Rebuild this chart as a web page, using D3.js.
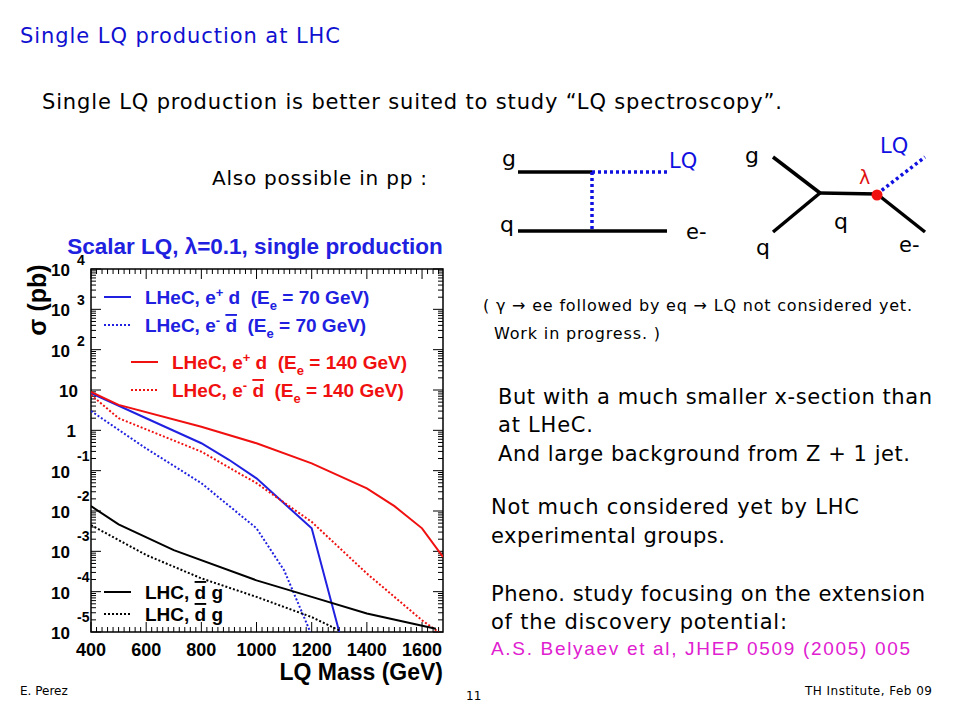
<!DOCTYPE html>
<html><head><meta charset="UTF-8">
<script src="https://cdnjs.cloudflare.com/ajax/libs/d3/7.8.5/d3.min.js"></script>
<style>body{margin:0;background:#fff}</style></head>
<body><svg id="s" width="960" height="720"></svg>
<script>
// data (mass in GeV, log10 sigma in pb)
const blueSolidM = [400, 600, 800, 900, 1000, 1200, 1300]
const blueSolidL = [0.92, 0.3, -0.32, -0.73, -1.19, -2.43, -5]
const blueDashM = [400, 600, 800, 1000, 1100, 1195]
const blueDashL = [0.48, -0.45, -1.31, -2.43, -3.47, -5]
const redSolidM = [400, 500, 800, 1000, 1200, 1400, 1500, 1600, 1676]
const redSolidL = [0.95, 0.63, 0.09, -0.32, -0.82, -1.44, -1.88, -2.43, -3.14]
const redDashM = [400, 500, 800, 1000, 1200, 1400, 1600, 1660]
const redDashL = [0.88, 0.3, -0.53, -1.31, -2.27, -3.55, -4.71, -5]
const blackSolidM = [400, 500, 700, 1000, 1200, 1400, 1650]
const blackSolidL = [-1.88, -2.33, -2.97, -3.72, -4.13, -4.54, -4.92]
const blackDashM = [400, 600, 800, 1000, 1200, 1300]
const blackDashL = [-2.35, -3.09, -3.67, -4.13, -4.63, -4.96]
const xTicks = [400, 600, 800, 1000, 1200, 1400, 1600]
const yExps = [-5, -4, -3, -2, -1, 0, 1, 2, 3, 4]

const svg = d3.select('#s')
const SL = 'Liberation Sans, Arial, sans-serif'
const SF = 'DejaVu Sans, sans-serif'
const x = d3.scaleLinear().domain([400, 1676]).range([91, 443])
const y = d3.scaleLog().domain([1e-5, 1e4]).range([632, 269])

// slide text
function txt(t, px, py, size, col, fam) {
  return svg.append('text').attr('x', px).attr('y', py).attr('font-size', size)
    .attr('fill', col || '#000').attr('font-family', fam || SF).text(t)
}
txt('Single LQ production at LHC', 20, 43, 21, '#1010d0').attr('textLength', 320)
txt('Single LQ production is better suited to study \u201cLQ spectroscopy\u201d.', 42, 109, 21).attr('textLength', 740)
txt('Also possible in pp :', 212, 185, 20).attr('textLength', 215)
txt('( \u03b3 \u2192 ee followed by eq \u2192 LQ not considered yet.', 483, 311, 16).attr('textLength', 429)
txt('Work in progress. )', 494, 339, 16).attr('textLength', 166)
txt('But with a much smaller x-section than', 498, 404, 21).attr('textLength', 434)
txt('at LHeC.', 498, 432, 21).attr('textLength', 95)
txt('And large background from Z + 1 jet.', 498, 461, 21).attr('textLength', 412)
txt('Not much considered yet by LHC', 491, 514, 21).attr('textLength', 368)
txt('experimental groups.', 491, 543, 21).attr('textLength', 234)
txt('Pheno. study focusing on the extension', 491, 601, 21).attr('textLength', 434)
txt('of the discovery potential:', 491, 629, 21).attr('textLength', 296)
txt('A.S. Belyaev et al, JHEP 0509 (2005) 005', 491, 655, 19, '#e020d0', SL).attr('textLength', 419)
txt('E. Perez', 20, 695, 12)
txt('11', 466, 700, 12)
txt('TH Institute, Feb 09', 805, 695, 12).attr('textLength', 127)

// feynman diagrams
const fl = (a, b, c, d, col, dash) => svg.append('line').attr('x1', a).attr('y1', b).attr('x2', c).attr('y2', d)
  .attr('stroke', col).attr('stroke-width', 3.5).attr('stroke-dasharray', dash || null)
fl(518, 172, 592, 172, '#000'); fl(592, 172, 667, 172, '#1010e0', '3,3')
fl(592, 172, 592, 231, '#1010e0', '3,3'); fl(518, 231, 667, 231, '#000')
txt('g', 502, 166, 22); txt('q', 500, 232, 22); txt('e-', 686, 239, 21); txt('LQ', 669, 168, 21, '#1010e0')
fl(773, 157, 820, 193, '#000'); fl(773, 232, 820, 193, '#000'); fl(820, 193, 877, 194, '#000')
fl(877, 194, 925, 232, '#000'); fl(877, 194, 925, 157, '#1010e0', '3,3')
svg.append('circle').attr('cx', 877).attr('cy', 195).attr('r', 5.5).attr('fill', '#f01010')
txt('g', 745, 163, 22); txt('LQ', 880, 153, 21, '#1010e0'); txt('\u03bb', 859, 184, 19, '#e01010')
txt('q', 834, 229, 22); txt('q', 756, 255, 22); txt('e-', 899, 252, 21)

// chart
const plot = svg.append('g')
plot.append('text').attr('x', 255).attr('y', 254).attr('text-anchor', 'middle').attr('font-family', SL)
  .attr('font-weight', 'bold').attr('font-size', 22.5).attr('fill', '#2020e0').text('Scalar LQ, \u03bb=0.1, single production')
plot.append('rect').attr('x', 91).attr('y', 269).attr('width', 352).attr('height', 363)
  .attr('fill', 'none').attr('stroke', '#000').attr('stroke-width', 1.5)

// ticks on all four sides
const xMinor = d3.range(400, 1676, 20)
xMinor.forEach(v => {
  const len = v % 200 === 0 ? 10 : 5
  plot.append('line').attr('x1', x(v)).attr('x2', x(v)).attr('y1', 632).attr('y2', 632 - len).attr('stroke', '#000')
  plot.append('line').attr('x1', x(v)).attr('x2', x(v)).attr('y1', 269).attr('y2', 269 + len).attr('stroke', '#000')
})
yExps.forEach(e => {
  for (let k = 1; k <= 9; k++) {
    const v = k * Math.pow(10, e)
    if (v > 1e4) continue
    const len = k === 1 ? 10 : 5
    plot.append('line').attr('x1', 91).attr('x2', 91 + len).attr('y1', y(v)).attr('y2', y(v)).attr('stroke', '#000')
    plot.append('line').attr('x1', 443).attr('x2', 443 - len).attr('y1', y(v)).attr('y2', y(v)).attr('stroke', '#000')
  }
})
xTicks.forEach(v => plot.append('text').attr('x', x(v)).attr('y', 656).attr('text-anchor', 'middle')
  .attr('font-family', SL).attr('font-weight', 'bold').attr('font-size', 18).text(v))
yExps.forEach(e => {
  const t = plot.append('text').attr('font-family', SL).attr('font-weight', 'bold').attr('font-size', 17)
  if (e === 0) { t.attr('x', 76).attr('y', y(1) + 7).attr('text-anchor', 'end').text('1'); return }
  if (e === 1) { t.attr('x', 78).attr('y', y(10) + 7).attr('text-anchor', 'end').text('10'); return }
  t.attr('x', 51).attr('y', y(Math.pow(10, e)) + 7).text('10')
  plot.append('text').attr('x', 77).attr('y', y(Math.pow(10, e)) - (e > 0 ? 4 : 10)).attr('font-family', SL)
    .attr('font-weight', 'bold').attr('font-size', 14).text(e)
})
plot.append('text').attr('transform', 'translate(46,300) rotate(-90)').attr('text-anchor', 'middle')
  .attr('font-family', SL).attr('font-weight', 'bold').attr('font-size', 25).text('\u03c3 (pb)')
plot.append('text').attr('x', 443).attr('y', 680).attr('text-anchor', 'end')
  .attr('font-family', SL).attr('font-weight', 'bold').attr('font-size', 23).text('LQ Mass (GeV)')

const line = d3.line().x(d => x(d[0])).y(d => y(Math.pow(10, d[1])))
const series = [
  [blueSolidM, blueSolidL, '#2020e0', null],
  [blueDashM, blueDashL, '#2020e0', '2,2'],
  [redSolidM, redSolidL, '#f01010', null],
  [redDashM, redDashL, '#f01010', '2,2'],
  [blackSolidM, blackSolidL, '#000', null],
  [blackDashM, blackDashL, '#000', '2,2']
]
svg.append('clipPath').attr('id', 'c').append('rect').attr('x', 91).attr('y', 269).attr('width', 352).attr('height', 363)
series.forEach(s => plot.append('path').attr('d', line(d3.zip(s[0], s[1]))).attr('clip-path', 'url(#c)')
  .attr('fill', 'none').attr('stroke', s[2]).attr('stroke-width', 2).attr('stroke-dasharray', s[3]))

// legend
function leg(lx, ly, col, dash, parts) {
  plot.append('line').attr('x1', lx).attr('x2', lx + 27).attr('y1', ly).attr('y2', ly)
    .attr('stroke', col).attr('stroke-width', 2).attr('stroke-dasharray', dash)
  const t = plot.append('text').attr('x', lx + 41).attr('y', ly + 7).attr('font-family', SL)
    .attr('font-weight', 'bold').attr('font-size', 19).attr('fill', col).attr('xml:space', 'preserve')
  parts.forEach(p => {
    const ts = t.append('tspan').text(p[0])
    if (p[1] === 'sup') ts.attr('dy', -7).attr('font-size', 13)
    if (p[1] === 'sub') ts.attr('dy', 6).attr('font-size', 13)
    if (p[1] === 'over') ts.attr('text-decoration', 'overline')
    if (p[2]) ts.attr('dy', p[2])
  })
}
const ep = E => [['LHeC, e'], ['+', 'sup'], [' d  (E', null, 7], ['e', 'sub'], [' = ' + E + ' GeV)', null, -6]]
const em = E => [['LHeC, e'], ['-', 'sup'], [' ', null, 7], ['d', 'over'], ['  (E'], ['e', 'sub'], [' = ' + E + ' GeV)', null, -6]]
leg(104, 297, '#2020e0', null, ep(70))
leg(104, 325, '#2020e0', '2,2', em(70))
leg(131, 362, '#f01010', null, ep(140))
leg(131, 390, '#f01010', '2,2', em(140))
leg(104, 592, '#000', null, [['LHC, '], ['d', 'over'], [' g']])
leg(104, 614, '#000', '2,2', [['LHC, '], ['d', 'over'], [' g']])
</script></body></html>
